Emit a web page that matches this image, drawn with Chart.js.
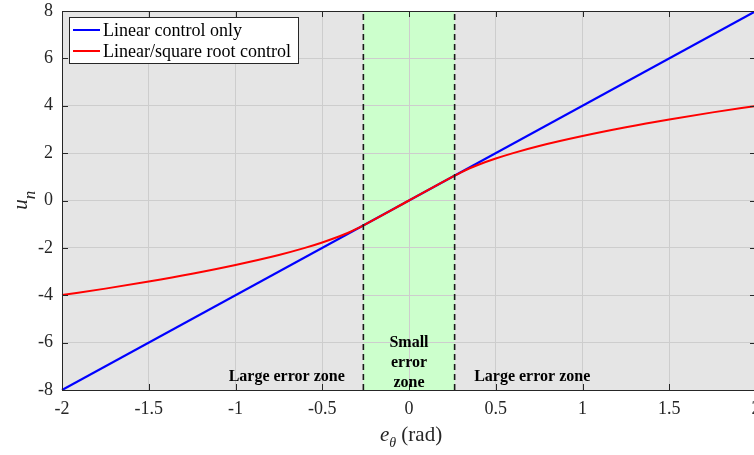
<!DOCTYPE html>
<html>
<head>
<meta charset="utf-8">
<script src="https://cdn.jsdelivr.net/npm/chart.js@4/dist/chart.umd.min.js"></script>
<style>
  html, body { margin: 0; padding: 0; background: #fff; overflow: hidden; }
  #wrap { width: 760px; height: 455px; }
</style>
</head>
<body>
<div id="wrap"><canvas id="chart" width="760" height="455"></canvas></div>
<script>
// Data
const xTicks = [-2, -1.5, -1, -0.5, 0, 0.5, 1, 1.5, 2];
const yTicks = [-8, -6, -4, -2, 0, 2, 4, 6, 8];

const linearX = [-2, 2];
const linearY = [-8, 8];

const sqrtX = [-2, -1.75, -1.5, -1.25, -1, -0.75, -0.6, -0.5, -0.4, -0.35, -0.3, -0.263, 0, 0.263, 0.3, 0.35, 0.4, 0.5, 0.6, 0.75, 1, 1.25, 1.5, 1.75, 2];
const sqrtY = [-3.99, -3.72, -3.42, -3.09, -2.72, -2.30, -2.00, -1.77, -1.51, -1.36, -1.19, -1.05, 0, 1.05, 1.19, 1.36, 1.51, 1.77, 2.00, 2.30, 2.72, 3.09, 3.42, 3.72, 3.99];

const bandEdges = [-0.263, 0.263];

const legendLabels = ['Linear control only', 'Linear/square root control'];
const zoneLabels = ['Large error zone', 'Small', 'error', 'zone', 'Large error zone'];

const SERIF = '"Liberation Serif", "Times New Roman", serif';
const axisColor = '#262626';

function pts(xs, ys) {
  return xs.map((x, i) => ({ x: x, y: ys[i] }));
}

// Gray plot background + green small-error band (under the grid)
const backgroundPlugin = {
  id: 'bg',
  beforeDraw(chart) {
    const { ctx, chartArea: a, scales } = chart;
    ctx.save();
    ctx.fillStyle = '#e5e5e5';
    ctx.fillRect(a.left, a.top, a.right - a.left, a.bottom - a.top);
    const x0 = scales.x.getPixelForValue(bandEdges[0]);
    const x1 = scales.x.getPixelForValue(bandEdges[1]);
    ctx.fillStyle = '#ccffcc';
    ctx.fillRect(x0, a.top, x1 - x0, a.bottom - a.top);
    ctx.restore();
  }
};

// Box, inner ticks, axis titles, zone text and legend
const overlayPlugin = {
  id: 'overlay',
  afterDraw(chart) {
    const { ctx, chartArea: a, scales } = chart;
    ctx.save();

    // box
    ctx.strokeStyle = axisColor;
    ctx.lineWidth = 1;
    ctx.strokeRect(a.left + 0.5, a.top + 0.5, a.right - a.left, a.bottom - a.top);

    // inner ticks
    xTicks.forEach(v => {
      const px = Math.round(scales.x.getPixelForValue(v)) + 0.5;
      ctx.beginPath();
      ctx.moveTo(px, a.bottom); ctx.lineTo(px, a.bottom - 6);
      ctx.moveTo(px, a.top); ctx.lineTo(px, a.top + 6);
      ctx.stroke();
    });
    yTicks.forEach(v => {
      const py = Math.round(scales.y.getPixelForValue(v)) + 0.5;
      ctx.beginPath();
      ctx.moveTo(a.left, py); ctx.lineTo(a.left + 6, py);
      ctx.moveTo(a.right, py); ctx.lineTo(a.right - 6, py);
      ctx.stroke();
    });

    // zone labels
    ctx.fillStyle = '#000';
    ctx.font = 'bold 16px ' + SERIF;
    ctx.textAlign = 'center';
    ctx.textBaseline = 'alphabetic';
    const yText = scales.y.getPixelForValue(-7.6);
    ctx.fillText(zoneLabels[0], scales.x.getPixelForValue(-0.705), yText);
    ctx.fillText(zoneLabels[4], scales.x.getPixelForValue(0.71), yText);
    const xc = scales.x.getPixelForValue(0);
    ctx.fillText(zoneLabels[1], xc, scales.y.getPixelForValue(-6.17));
    ctx.fillText(zoneLabels[2], xc, scales.y.getPixelForValue(-7.03));
    ctx.fillText(zoneLabels[3], xc, scales.y.getPixelForValue(-7.88));

    // x axis title: e_θ (rad)
    ctx.fillStyle = axisColor;
    ctx.textAlign = 'left';
    const titleY = 441;
    ctx.font = 'italic 21px ' + SERIF;
    const eW = ctx.measureText('e').width;
    ctx.font = 'italic 14px ' + SERIF;
    const thW = ctx.measureText('\u03b8').width;
    ctx.font = '21px ' + SERIF;
    const radW = ctx.measureText(' (rad)').width;
    let tx = xc - (eW + thW + radW) / 2 + 2;
    ctx.font = 'italic 21px ' + SERIF;
    ctx.fillText('e', tx, titleY);
    ctx.font = 'italic 14px ' + SERIF;
    ctx.fillText('\u03b8', tx + eW, titleY + 6);
    ctx.font = '21px ' + SERIF;
    ctx.fillText(' (rad)', tx + eW + thW, titleY);

    // y axis title: u_n
    ctx.save();
    ctx.translate(27, scales.y.getPixelForValue(0));
    ctx.rotate(-Math.PI / 2);
    ctx.font = 'italic 21px ' + SERIF;
    const uW = ctx.measureText('u').width;
    ctx.fillText('u', -uW / 2 - 4, 0);
    ctx.font = 'italic 17px ' + SERIF;
    ctx.fillText('n', uW / 2 - 4, 8);
    ctx.restore();

    // legend
    const lx = a.left + 7, ly = a.top + 6, lw = 229, lh = 46;
    ctx.fillStyle = '#fff';
    ctx.fillRect(lx, ly, lw, lh);
    ctx.strokeStyle = axisColor;
    ctx.lineWidth = 1;
    ctx.strokeRect(lx + 0.5, ly + 0.5, lw, lh);
    ctx.font = '18px ' + SERIF;
    ctx.textBaseline = 'middle';
    chart.data.datasets.slice(0, 2).forEach((ds, i) => {
      const yy = ly + 13 + i * 21;
      ctx.strokeStyle = ds.borderColor;
      ctx.lineWidth = 2;
      ctx.beginPath();
      ctx.moveTo(lx + 4, yy); ctx.lineTo(lx + 31, yy);
      ctx.stroke();
      ctx.fillStyle = '#000';
      ctx.fillText(legendLabels[i], lx + 34, yy + 1);
    });
    ctx.restore();
  }
};

new Chart(document.getElementById('chart'), {
  type: 'line',
  data: {
    datasets: [
      {
        label: legendLabels[0],
        data: pts(linearX, linearY),
        borderColor: '#0000ff',
        borderWidth: 2,
        pointRadius: 0,
        order: 3
      },
      {
        label: legendLabels[1],
        data: pts(sqrtX, sqrtY),
        borderColor: '#ff0000',
        borderWidth: 2,
        pointRadius: 0,
        cubicInterpolationMode: 'monotone',
        order: 2
      },
      {
        label: 'edge-',
        data: pts([bandEdges[0], bandEdges[0]], [-8, 8]),
        borderColor: '#1a1a1a',
        borderWidth: 1.6,
        borderDash: [6, 4],
        pointRadius: 0,
        order: 1
      },
      {
        label: 'edge+',
        data: pts([bandEdges[1], bandEdges[1]], [-8, 8]),
        borderColor: '#1a1a1a',
        borderWidth: 1.6,
        borderDash: [6, 4],
        pointRadius: 0,
        order: 1
      }
    ]
  },
  options: {
    responsive: false,
    animation: false,
    clip: false,
    layout: { padding: { top: 11, right: 4, left: 0, bottom: 0 } },
    plugins: { legend: { display: false }, tooltip: { enabled: false } },
    scales: {
      x: {
        type: 'linear',
        min: -2, max: 2,
        afterBuildTicks(scale) { scale.ticks = xTicks.map(v => ({ value: v })); },
        afterFit(scale) { scale.height = 65; scale.paddingLeft = 0; scale.paddingRight = 0; },
        grid: { color: '#cdcdcd', drawTicks: false },
        border: { display: false },
        ticks: {
          color: axisColor,
          padding: 8,
          font: { family: SERIF, size: 18 },
          maxRotation: 0,
          callback: v => String(v)
        }
      },
      y: {
        type: 'linear',
        min: -8, max: 8,
        afterBuildTicks(scale) { scale.ticks = yTicks.map(v => ({ value: v })); },
        afterFit(scale) { scale.width = 62; scale.paddingTop = 0; scale.paddingBottom = 0; },
        grid: { color: '#cdcdcd', drawTicks: false },
        border: { display: false },
        ticks: {
          color: axisColor,
          padding: 9,
          font: { family: SERIF, size: 18 },
          callback: v => String(v)
        }
      }
    }
  },
  plugins: [backgroundPlugin, overlayPlugin]
});
</script>
</body>
</html>
